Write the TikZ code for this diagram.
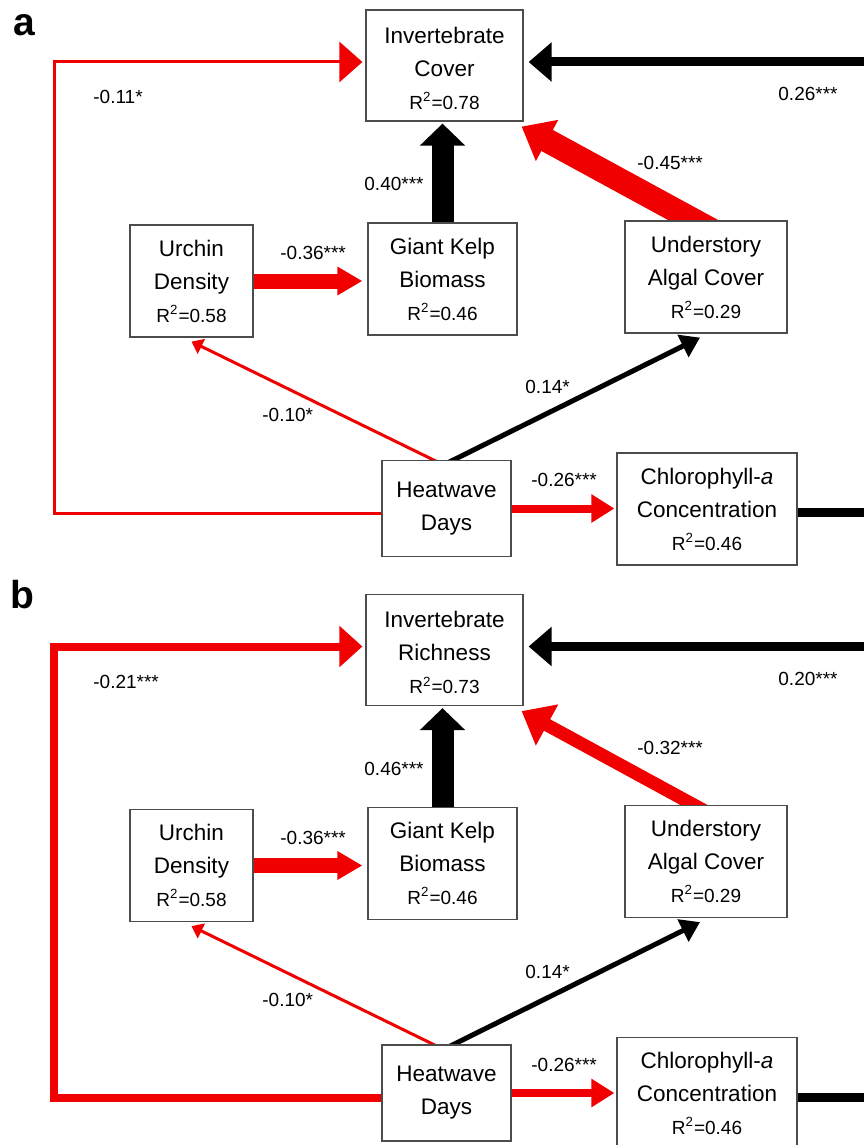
\documentclass[tikz,border=0pt]{standalone}
\usepackage{fontspec}
\setmainfont{Liberation Sans}
\usetikzlibrary{arrows.meta, backgrounds}
\definecolor{negred}{RGB}{240,0,0}
\newcommand{\rsq}[1]{{\fontsize{9.5}{16.5}\selectfont R\textsuperscript{2}=#1}}

\begin{document}
\begin{tikzpicture}[x=0.5pt, y=-0.5pt,
    box/.style={draw=black!70, line width=0.6pt, fill=white, align=center,
      inner sep=0pt, font=\fontsize{11.25}{16.5}\selectfont},
    lbl/.style={anchor=west, inner sep=0pt, font=\fontsize{9.5}{11}\selectfont},
    panel/.style={anchor=base, inner sep=0pt, font=\fontsize{19.5}{22}\selectfont\bfseries},
    poseff/.style={draw=black},
    negeff/.style={draw=negred},
    arrowhd/.style 2 args={-{Triangle[length=#1, width=#2]}}]
    \useasboundingbox (0,0) rectangle (863,1145);

    \node[panel] (pa) at (24,36) {a};
    \node[panel] (pb) at (22.5,608.3) {b};

    % one panel per response variable
    \foreach \p/\dy/\resp/\rinv/\wout/\lout/\ltop/\lkelp/\lund/\wund in
      {a/0/Cover/0.78/1.5pt/-0.11*/0.26***/0.40***/-0.45***/12pt,
       b/584.5/Richness/0.73/4pt/-0.21***/0.20***/0.46***/-0.32***/6.5pt}
    {
    \begin{scope}[shift={(0,\dy)}]
        \node[box, minimum width=78.5pt, minimum height=55.5pt] (inv\p) at (444.5,65.5)
            {\rule{0pt}{11pt}Invertebrate\\\resp\\\rsq{\rinv}};
        \node[box, minimum width=61.5pt, minimum height=56pt] (urch\p) at (191.5,281)
            {Urchin\\Density\\\rsq{0.58}};
        \node[box, minimum width=74.5pt, minimum height=56pt] (kelp\p) at (442.5,279)
            {Giant Kelp\\Biomass\\\rsq{0.46}};
        \node[box, minimum width=81pt, minimum height=56pt] (under\p) at (706,277)
            {Understory\\Algal Cover\\\rsq{0.29}};
        \node[box, minimum width=64.5pt, minimum height=48pt] (heat\p) at (446.5,508.5)
            {Heatwave\\Days};
        \node[box, minimum width=90pt, minimum height=56pt] (chl\p) at (707,509)
            {Chlorophyll-\textit{a}\\Concentration\\\rsq{0.46}};

        \coordinate (oc\p) at (54,62);
        \coordinate (re\p) at (880,62);
        \coordinate (ce\p) at (880,512.5);

        \begin{scope}[on background layer]
            \draw[negeff, line width=\wout, arrowhd={11.5pt}{20pt}, shorten >=1.5pt]
                ([yshift=-2.5pt]heat\p.west) -| (oc\p) -- (inv\p.west |- oc\p);
            \draw[poseff, line width=4.5pt, arrowhd={11.5pt}{19pt}, shorten >=2.5pt]
                (re\p) -- (inv\p.east |- re\p);
            \draw[poseff, line width=11pt, arrowhd={11pt}{22pt}, shorten >=1pt]
                (kelp\p.center) -- (kelp\p.center |- inv\p.south);
            \draw[negeff, line width=\wund, arrowhd={14.5pt}{22.5pt}]
                ([xshift=4pt, yshift=-5.5pt]under\p.north) -- ([xshift=-1pt, yshift=-2.5pt]inv\p.south east);
            \draw[negeff, line width=7.5pt, arrowhd={12.5pt}{13.5pt}, shorten >=2.5pt]
                (urch\p.center) -- (kelp\p.west |- urch\p.center);
            \draw[negeff, line width=1.5pt, arrowhd={5.5pt}{8pt}]
                ([xshift=-4.5pt, yshift=-1pt]heat\p.north) -- ([yshift=-2pt]urch\p.south);
            \draw[poseff, line width=2.5pt, arrowhd={9.5pt}{12pt}]
                ([xshift=1.5pt, yshift=-1pt]heat\p.north) -- ([xshift=-3pt, yshift=-2pt]under\p.south);
            \draw[negeff, line width=4pt, arrowhd={11.5pt}{13.5pt}, shorten >=1pt]
                (heat\p.center) -- (chl\p.west |- heat\p.center);
            \draw[poseff, line width=4.5pt] (chl\p.center |- ce\p) -- (ce\p);
        \end{scope}

        % path coefficients
        \node[lbl] (lo\p) at (93,97) {\lout};
        \node[lbl] (lt\p) at (778,94) {\ltop};
        \node[lbl] (lk\p) at (364,184) {\lkelp};
        \node[lbl] (lu\p) at (637,163) {\lund};
        \node[lbl] (lur\p) at (280,253) {-0.36***};
        \node[lbl] (lh\p) at (262,415) {-0.10*};
        \node[lbl] (lg\p) at (525,387) {0.14*};
        \node[lbl] (lc\p) at (531,480) {-0.26***};
    \end{scope}
    }
\end{tikzpicture}
\end{document}
